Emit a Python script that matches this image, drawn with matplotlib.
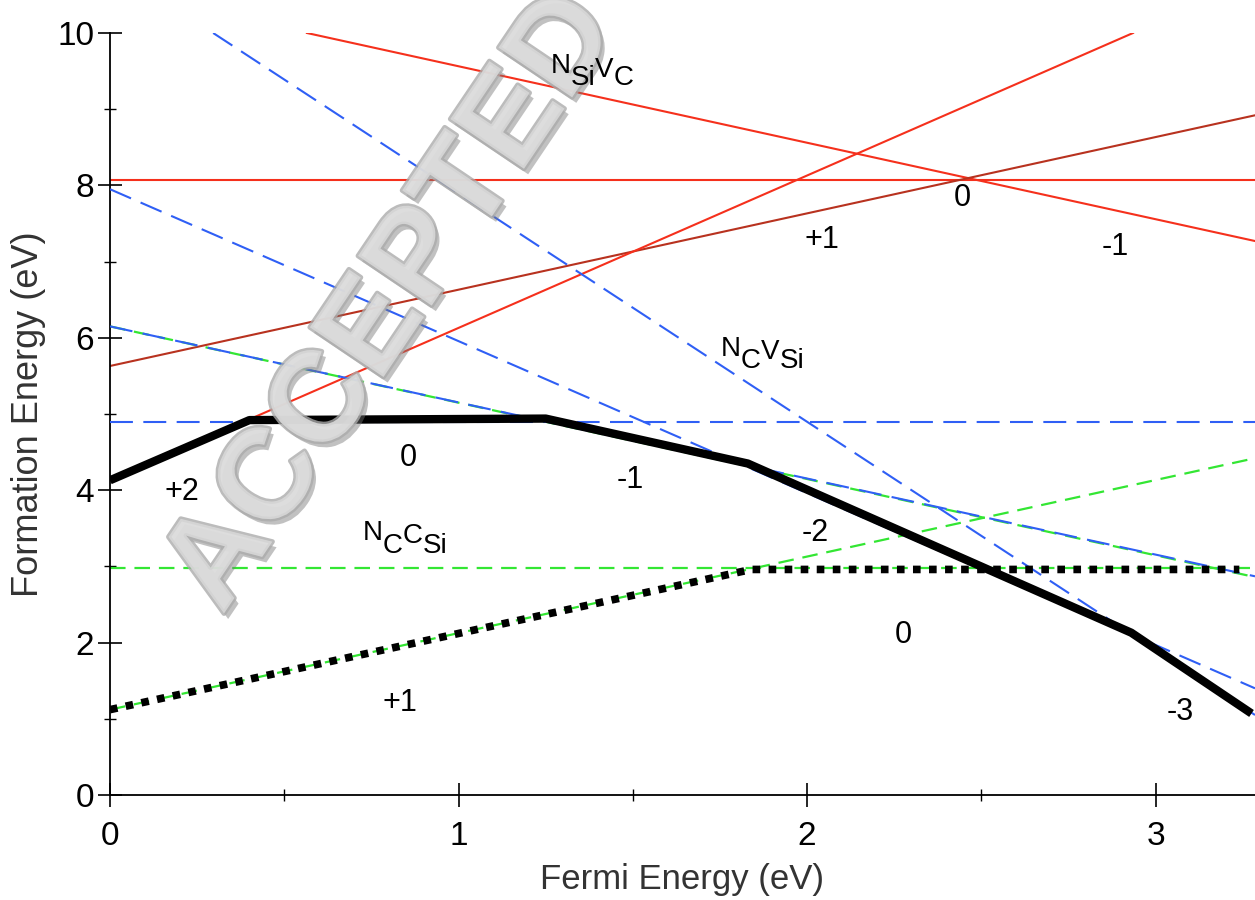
import matplotlib
matplotlib.use("Agg")
import matplotlib.pyplot as plt
import matplotlib.patheffects as pe
from matplotlib import font_manager
from matplotlib.ticker import MultipleLocator
from matplotlib.transforms import Affine2D

plt.rcParams['font.family'] = ['Liberation Sans', 'DejaVu Sans']

# N_Si V_C charge states (red), endpoints
red_x = [[0, 3.285], [0.565, 3.285], [0, 3.285], [0, 2.935]]
red_y = [[8.07, 8.07], [10.0, 7.27], [5.63, 8.92], [4.13, 10.0]]
red_col = ['#f5301c', '#f5301c', '#b8321f', '#f5301c']

# N_C V_Si charge states (blue dashed)
blue_x = [[0, 3.285], [0, 3.285], [0, 3.285], [0.296, 3.285]]
blue_y = [[4.9, 4.9], [6.15, 2.87], [7.95, 1.40], [10.0, 1.05]]

# N_C C_Si charge states (green dashed)
green_x = [[0, 3.285], [0, 3.285], [0, 3.285]]
green_y = [[2.98, 2.98], [1.12, 4.42], [6.15, 2.86]]

# lowest-energy envelopes
env_vsi_x = [0, 0.40, 1.25, 1.83, 2.93, 3.275]
env_vsi_y = [4.13, 4.92, 4.94, 4.35, 2.13, 1.07]
env_csi_x = [0, 1.84, 3.24]
env_csi_y = [1.12, 2.96, 2.96]

charge_labels = [
    (2.445, 7.83, '0'), (2.043, 7.28, '+1'), (2.884, 7.19, '-1'),
    (0.855, 4.42, '0'), (0.207, 3.98, '+2'), (1.492, 4.13, '-1'),
    (2.023, 3.44, '-2'), (3.07, 1.09, '-3'),
    (2.275, 2.10, '0'), (0.832, 1.21, '+1'),
]
# defect names: (x centre, baseline y, [(piece, pixel shift down)])
defect_labels = [
    (1.383, 9.475, [('N', 0), ('Si', 12), ('V', 4), ('C', 12)]),
    (1.872, 5.76, [('N', 0), ('C', 12), ('V', 3), ('Si', 12)]),
    (0.846, 3.35, [('N', 0), ('C', 13), ('C', 3), ('Si', 13)]),
]

fig = plt.figure(figsize=(12.55, 9), dpi=100)
ax = fig.add_axes([110 / 1255, 105 / 900, 1145 / 1255, 762 / 900])

for xs, ys, c in zip(red_x, red_y, red_col):
    ax.plot(xs, ys, color=c, lw=1.5, zorder=2)
for xs, ys in zip(green_x, green_y):
    ax.plot(xs, ys, color='#33e633', lw=1.6, dashes=(7, 4), zorder=2)
for xs, ys in zip(blue_x, blue_y):
    ax.plot(xs, ys, color='#2f5ff5', lw=1.5, dashes=(11, 5), zorder=3)

ax.plot(env_vsi_x, env_vsi_y, color='black', lw=6, solid_capstyle='butt', zorder=4)
ax.plot(env_csi_x, env_csi_y, color='black', lw=5.5, dashes=(1, 1.1),
        dash_capstyle='butt', zorder=4)

for x, y, s in charge_labels:
    ax.text(x, y, s, fontsize=22, ha='center', va='center', zorder=6)

ax.set_xlim(0, 3.285)
ax.set_ylim(0, 10)

# names with full-size, lowered subscripts
renderer = fig.canvas.get_renderer()
for x, y, parts in defect_labels:
    pieces = [ax.text(x, y, s, fontsize=20, ha='left', va='baseline', zorder=6)
              for s, _ in parts]
    widths = [t.get_window_extent(renderer).width for t in pieces]
    off = -sum(widths) / 2
    for t, (_, dy), w in zip(pieces, parts, widths):
        t.set_transform(ax.transData + Affine2D().translate(off, -dy))
        off += w

ax.xaxis.set_major_locator(MultipleLocator(1))
ax.xaxis.set_minor_locator(MultipleLocator(0.5))
ax.yaxis.set_major_locator(MultipleLocator(2))
ax.yaxis.set_minor_locator(MultipleLocator(1))
ax.tick_params(which='major', direction='inout', length=17, width=1.2,
               labelsize=24, pad=3)
ax.tick_params(which='minor', direction='inout', length=9, width=1.0)
ax.tick_params(axis='x', pad=10)
for s in ['top', 'right']:
    ax.spines[s].set_visible(False)
ax.spines['left'].set_linewidth(1.3)
ax.spines['bottom'].set_linewidth(1.3)
ax.set_xlabel('Fermi Energy (eV)', fontsize=25, color='#333333', labelpad=8)
ax.set_ylabel('Formation Energy (eV)', fontsize=26, color='#333333', labelpad=8)

# watermark, over the lines but under the labels
names = {f.name for f in font_manager.fontManager.ttflist}
if 'Liberation Sans Narrow' in names:
    wm_family, wm_size = ['Liberation Sans Narrow'], 110
else:
    wm_family, wm_size = ['Liberation Sans'], 93
ax.text(393 / 1255, 1 - 303 / 900, 'ACCEPTED', transform=fig.transFigure,
        fontsize=wm_size, rotation=56, family=wm_family, fontweight='bold',
        ha='center', va='center', color='#dcdcdc', alpha=0.8, zorder=5,
        clip_on=False,
        path_effects=[pe.SimplePatchShadow(offset=(3, -4), shadow_rgbFace='#777777', alpha=0.45),
                      pe.Stroke(linewidth=3.5, foreground='#ababab'), pe.Normal()])

fig.savefig('out.png', dpi=100)
